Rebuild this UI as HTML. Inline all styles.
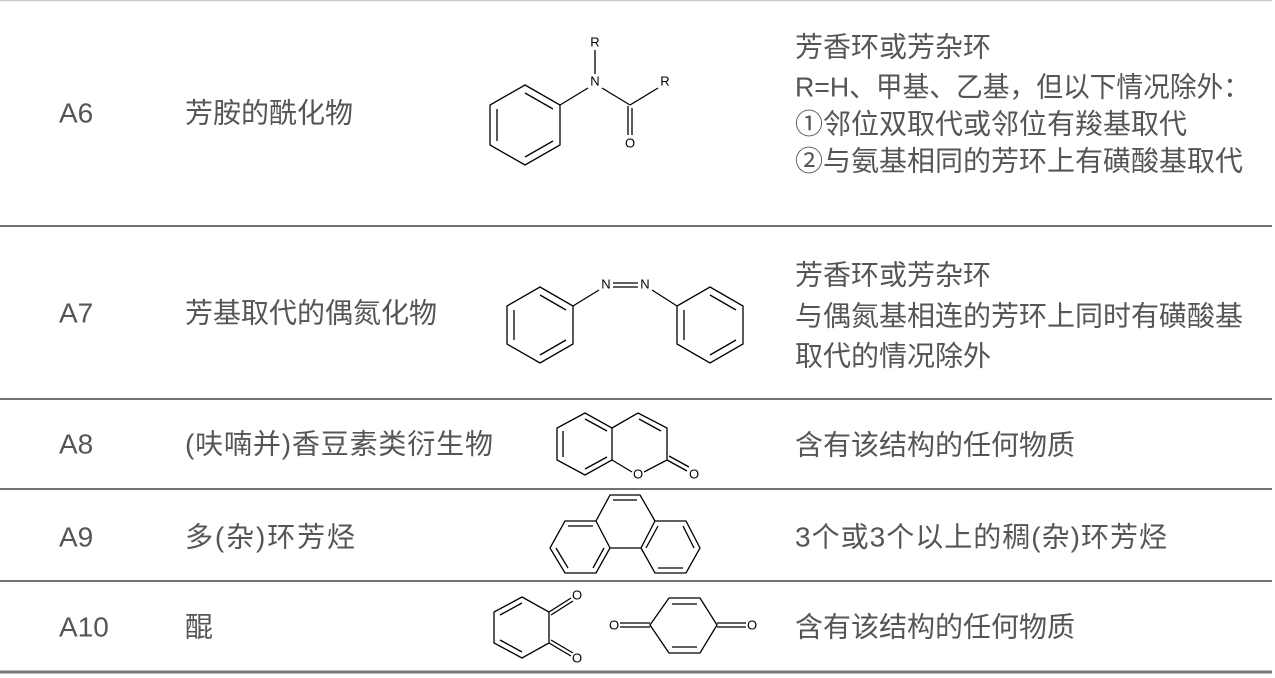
<!DOCTYPE html>
<html><head><meta charset="utf-8"><style>
html,body{margin:0;padding:0;background:#fff;}
svg{display:block;}
.t{font-family:"Liberation Sans","Noto Sans CJK SC",sans-serif;font-size:28px;fill:#555;dominant-baseline:central;}
.a{font-family:"Liberation Sans",sans-serif;font-size:13px;fill:#000;text-anchor:middle;dominant-baseline:central;}
.m line,.m polyline,.m polygon{stroke:#000;stroke-width:1.3;fill:none;}
</style></head><body>
<svg width="1275" height="678" viewBox="0 0 1275 678" xmlns="http://www.w3.org/2000/svg">
<line x1="0" y1="0.5" x2="1272" y2="0.5" stroke="#ccc" stroke-width="1.5"/>
<line x1="0" y1="226" x2="1272" y2="226" stroke="#444" stroke-width="1.5"/>
<line x1="0" y1="399" x2="1272" y2="399" stroke="#444" stroke-width="1.5"/>
<line x1="0" y1="489" x2="1272" y2="489" stroke="#444" stroke-width="1.5"/>
<line x1="0" y1="581" x2="1272" y2="581" stroke="#444" stroke-width="1.5"/>
<line x1="0" y1="672" x2="1272" y2="672" stroke="#777" stroke-width="3"/>

<text class="t" x="59" y="113">A6</text>
<text class="t" x="185" y="113">芳胺的酰化物</text>
<text class="t" x="795" y="47">芳香环或芳杂环</text>
<text class="t" x="795" y="87" textLength="455" lengthAdjust="spacingAndGlyphs">R=H、甲基、乙基，但以下情况除外：</text>
<text class="t" x="795" y="124">①邻位双取代或邻位有羧基取代</text>
<text class="t" x="795" y="161">②与氨基相同的芳环上有磺酸基取代</text>

<text class="t" x="59" y="313">A7</text>
<text class="t" x="185" y="313">芳基取代的偶氮化物</text>
<text class="t" x="795" y="275">芳香环或芳杂环</text>
<text class="t" x="795" y="316">与偶氮基相连的芳环上同时有磺酸基</text>
<text class="t" x="795" y="356">取代的情况除外</text>

<text class="t" x="59" y="444">A8</text>
<text class="t" x="185" y="444" textLength="308" lengthAdjust="spacing">(呋喃并)香豆素类衍生物</text>
<text class="t" x="795" y="445">含有该结构的任何物质</text>

<text class="t" x="59" y="537">A9</text>
<text class="t" x="185" y="537" textLength="170" lengthAdjust="spacing">多(杂)环芳烃</text>
<text class="t" x="795" y="537" textLength="372" lengthAdjust="spacing">3个或3个以上的稠(杂)环芳烃</text>

<text class="t" x="59" y="627">A10</text>
<text class="t" x="185" y="627">醌</text>
<text class="t" x="795" y="627">含有该结构的任何物质</text>

<g class="m">
<!-- A6 -->
<polygon points="525,85 560,105 560,145 525,165 490,145 490,105"/>
<line x1="525" y1="93" x2="553" y2="109"/>
<line x1="553" y1="141" x2="525" y2="157"/>
<line x1="497" y1="141" x2="497" y2="109"/>
<line x1="560" y1="105" x2="588" y2="88"/>
<line x1="595" y1="74" x2="595" y2="50"/>
<line x1="602" y1="88" x2="630" y2="105"/>
<line x1="630" y1="105" x2="658" y2="88"/>
<line x1="628" y1="106" x2="628" y2="135"/>
<line x1="632" y1="108" x2="632" y2="135"/>
<!-- A7 -->
<polygon points="540,287 573,306 573,344 540,363 507,344 507,306"/>
<line x1="540" y1="295" x2="566" y2="310"/>
<line x1="566" y1="340" x2="540" y2="355"/>
<line x1="514" y1="340" x2="514" y2="310"/>
<polygon points="710,287 743,306 743,344 710,363 677,344 677,306"/>
<line x1="710" y1="295" x2="736" y2="310"/>
<line x1="736" y1="340" x2="710" y2="355"/>
<line x1="684" y1="340" x2="684" y2="310"/>
<line x1="573" y1="306" x2="599" y2="290"/>
<line x1="613" y1="283" x2="638" y2="283"/>
<line x1="613" y1="287" x2="638" y2="287"/>
<line x1="652" y1="290" x2="677" y2="306"/>
<!-- A8 coumarin -->
<polygon points="585,413 612,428 612,460 585,475 557,460 557,428"/>
<line x1="585" y1="419" x2="607" y2="431"/>
<line x1="607" y1="457" x2="585" y2="469"/>
<line x1="563" y1="457" x2="563" y2="431"/>
<polyline points="612,428 638,413 667,428 667,460 644,472"/>
<line x1="632" y1="472" x2="612" y2="460"/>
<line x1="639" y1="419" x2="661" y2="431"/>
<line x1="667" y1="460" x2="687" y2="471"/>
<line x1="669" y1="456" x2="689" y2="467"/>
<!-- A9 phenanthrene -->
<polygon points="596,521 565,521 550,548 565,573 596,573 610,548"/>
<line x1="593" y1="526" x2="568" y2="526"/>
<line x1="556" y1="548" x2="568" y2="568"/>
<line x1="593" y1="568" x2="604" y2="548"/>
<polygon points="655,521 686,521 700,548 686,573 655,573 641,548"/>
<line x1="658" y1="526" x2="646" y2="548"/>
<line x1="683" y1="526" x2="694" y2="548"/>
<line x1="683" y1="568" x2="658" y2="568"/>
<polyline points="596,521 610,495 640,495 655,521"/>
<line x1="610" y1="548" x2="641" y2="548"/>
<line x1="613" y1="500" x2="637" y2="500"/>
<!-- A10 o-quinone -->
<polygon points="522,597 549,612 549,643 522,658 494,643 494,612"/>
<line x1="500" y1="615" x2="522" y2="603"/>
<line x1="500" y1="640" x2="522" y2="652"/>
<line x1="549" y1="612" x2="571" y2="598"/>
<line x1="551" y1="615" x2="573" y2="601"/>
<line x1="549" y1="643" x2="571" y2="656"/>
<line x1="551" y1="640" x2="573" y2="653"/>
<!-- p-quinone -->
<polygon points="669,598 700,598 717,625 700,653 669,653 650,625"/>
<line x1="672" y1="604" x2="697" y2="604"/>
<line x1="672" y1="647" x2="697" y2="647"/>
<line x1="620" y1="623" x2="650" y2="623"/>
<line x1="620" y1="627" x2="650" y2="627"/>
<line x1="717" y1="623" x2="746" y2="623"/>
<line x1="717" y1="627" x2="746" y2="627"/>
</g>
<text class="a" x="595" y="42">R</text>
<text class="a" x="595" y="81">N</text>
<text class="a" x="665" y="81">R</text>
<text class="a" x="630" y="143">O</text>
<text class="a" x="606" y="284">N</text>
<text class="a" x="645" y="284">N</text>
<text class="a" x="638" y="474">O</text>
<text class="a" x="694" y="474">O</text>
<text class="a" x="577" y="595">O</text>
<text class="a" x="577" y="658">O</text>
<text class="a" x="614" y="625">O</text>
<text class="a" x="752" y="625">O</text>
</svg>
</body></html>
